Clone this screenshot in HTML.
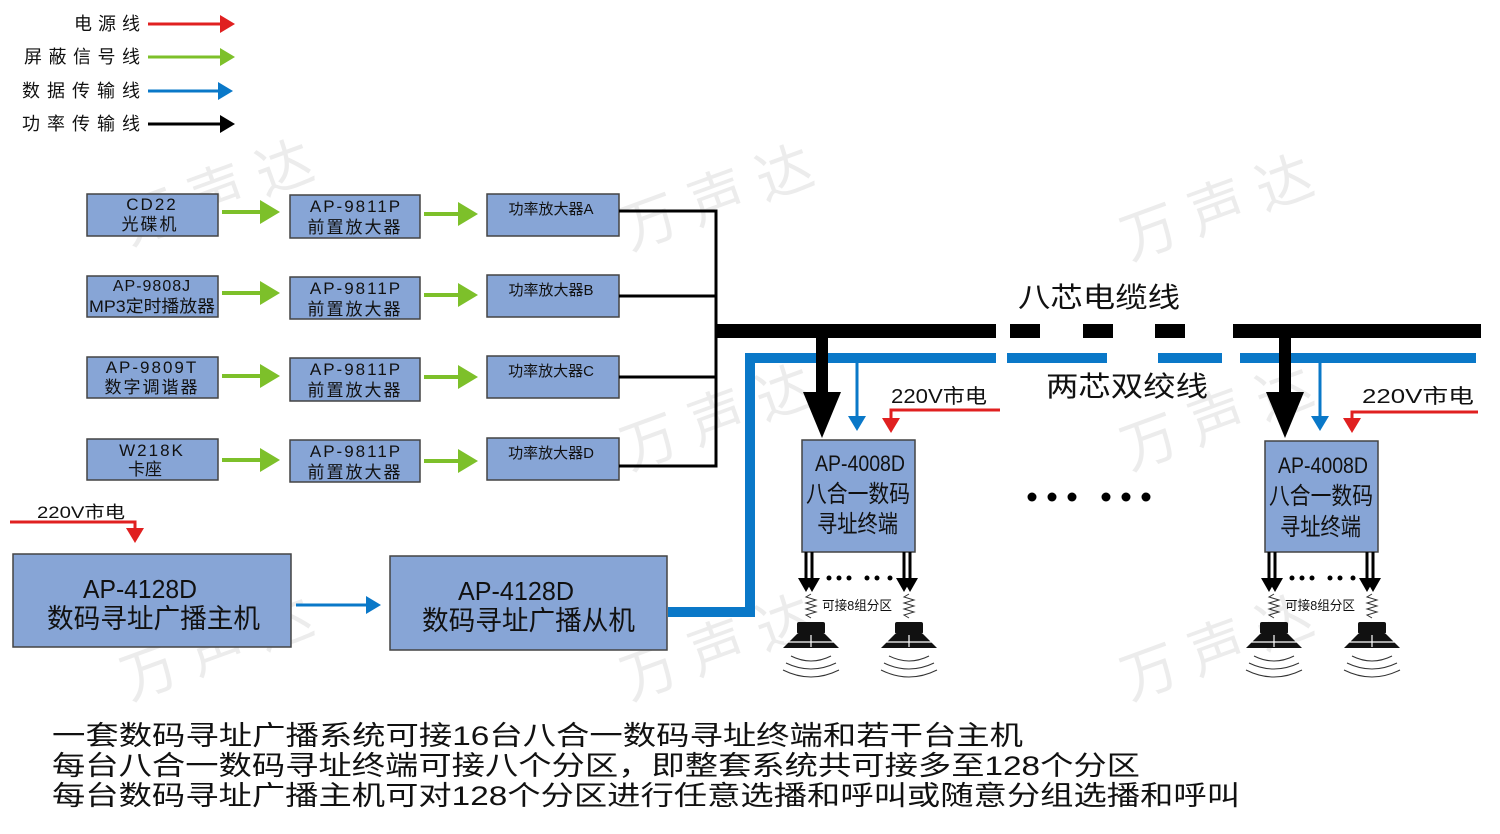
<!DOCTYPE html>
<html><head><meta charset="utf-8"><style>
html,body{margin:0;padding:0;background:#fff;}
svg{display:block;}
text{font-family:"Liberation Sans","Noto Sans CJK SC",sans-serif;fill:#111;}
.b{fill:#87a5d6;stroke:#444;stroke-width:1.5;}
.wm text{fill:#ececec;font-size:56px;}
</style></head><body>
<svg width="1500" height="834" viewBox="0 0 1500 834" xmlns="http://www.w3.org/2000/svg">
<defs>
<marker id="ar" markerWidth="6" markerHeight="6" refX="4" refY="3" orient="auto" markerUnits="strokeWidth"><path d="M0,0L5,3L0,6z" fill="#e02020"/></marker>
<marker id="ag" markerWidth="6" markerHeight="6" refX="4" refY="3" orient="auto" markerUnits="strokeWidth"><path d="M0,0L5,3L0,6z" fill="#7dc02a"/></marker>
<marker id="abl" markerWidth="6" markerHeight="6" refX="4" refY="3" orient="auto" markerUnits="strokeWidth"><path d="M0,0L5,3L0,6z" fill="#0a78c8"/></marker>
<marker id="ak" markerWidth="6" markerHeight="6" refX="4" refY="3" orient="auto" markerUnits="strokeWidth"><path d="M0,0L5,3L0,6z" fill="#000"/></marker>
<g id="spk">
<path d="M-5,-48 V-20 M1,-48 V-20" stroke="#000" stroke-width="3"/>
<path d="M-13,-22 L-5,-8 L3,-22z M-7,-22 L1,-8 L9,-22z" fill="#000"/>
<path d="M0,-6 l-5,3 l10,3 l-10,3 l10,3 l-10,3 l10,3 l-10,3 l5,3" stroke="#333" fill="none" stroke-width="1"/>
<rect x="-14" y="22" width="28" height="12" rx="2" fill="#111"/>
<path d="M-14,34 L-28,48 L28,48 L14,34z" fill="#111"/>
<path d="M0,35V47 M-27,42H27" stroke="#fff" stroke-width="1.2"/>
<path d="M-20,56 Q0,66 20,56 M-25,63 Q0,75 25,63 M-28,70 Q0,84 28,70" stroke="#333" fill="none" stroke-width="1"/>
</g>
</defs>
<!-- watermarks -->
<g class="wm">
<text x="130" y="245" transform="rotate(-20 130 245)">万 声 达</text>
<text x="630" y="250" transform="rotate(-20 630 250)">万 声 达</text>
<text x="1130" y="260" transform="rotate(-20 1130 260)">万 声 达</text>
<text x="630" y="470" transform="rotate(-20 630 470)">万 声 达</text>
<text x="1130" y="470" transform="rotate(-20 1130 470)">万 声 达</text>
<text x="130" y="700" transform="rotate(-20 130 700)">万 声 达</text>
<text x="630" y="700" transform="rotate(-20 630 700)">万 声 达</text>
<text x="1130" y="700" transform="rotate(-20 1130 700)">万 声 达</text>
</g>
<!-- legend -->
<g font-size="18">
<text x="74" y="30" textLength="66" lengthAdjust="spacing">电源线</text>
<text x="24" y="63" textLength="116" lengthAdjust="spacing">屏蔽信号线</text>
<text x="22" y="97" textLength="118" lengthAdjust="spacing">数据传输线</text>
<text x="22" y="130" textLength="118" lengthAdjust="spacing">功率传输线</text>
</g>
<line x1="148" y1="24" x2="232" y2="24" stroke="#e02020" stroke-width="3" marker-end="url(#ar)"/>
<line x1="148" y1="57" x2="232" y2="57" stroke="#7dc02a" stroke-width="3" marker-end="url(#ag)"/>
<line x1="148" y1="91" x2="230" y2="91" stroke="#0a78c8" stroke-width="3" marker-end="url(#abl)"/>
<line x1="148" y1="124" x2="232" y2="124" stroke="#000" stroke-width="3" marker-end="url(#ak)"/>

<!-- rows -->
<g font-size="17">
<rect class="b" x="87" y="194" width="131" height="42"/>
<text x="152" y="210" text-anchor="middle" letter-spacing="2">CD22</text>
<text x="150" y="230" text-anchor="middle" letter-spacing="2">光碟机</text>
<rect class="b" x="87" y="276" width="131" height="41"/>
<text x="152" y="291" text-anchor="middle" font-size="16" letter-spacing="1">AP-9808J</text>
<text x="89" y="312" font-size="17" textLength="126" lengthAdjust="spacingAndGlyphs">MP3定时播放器</text>
<rect class="b" x="87" y="357" width="131" height="41"/>
<text x="152" y="373" text-anchor="middle" letter-spacing="2">AP-9809T</text>
<text x="152" y="393" text-anchor="middle" letter-spacing="2">数字调谐器</text>
<rect class="b" x="87" y="439" width="131" height="41"/>
<text x="152" y="456" text-anchor="middle" letter-spacing="2">W218K</text>
<text x="145" y="475" text-anchor="middle">卡座</text>
</g>
<g font-size="17">
<rect class="b" x="290" y="195" width="130" height="43"/>
<text x="356" y="212" text-anchor="middle" letter-spacing="2">AP-9811P</text>
<text x="355" y="233" text-anchor="middle" letter-spacing="2">前置放大器</text>
<rect class="b" x="290" y="277" width="130" height="42"/>
<text x="356" y="294" text-anchor="middle" letter-spacing="2">AP-9811P</text>
<text x="355" y="315" text-anchor="middle" letter-spacing="2">前置放大器</text>
<rect class="b" x="290" y="358" width="130" height="43"/>
<text x="356" y="375" text-anchor="middle" letter-spacing="2">AP-9811P</text>
<text x="355" y="396" text-anchor="middle" letter-spacing="2">前置放大器</text>
<rect class="b" x="290" y="440" width="130" height="42"/>
<text x="356" y="457" text-anchor="middle" letter-spacing="2">AP-9811P</text>
<text x="355" y="478" text-anchor="middle" letter-spacing="2">前置放大器</text>
</g>
<g font-size="15">
<rect class="b" x="487" y="194" width="132" height="42"/>
<text x="551" y="214" text-anchor="middle">功率放大器A</text>
<rect class="b" x="487" y="275" width="132" height="42"/>
<text x="551" y="295" text-anchor="middle">功率放大器B</text>
<rect class="b" x="487" y="356" width="132" height="42"/>
<text x="551" y="376" text-anchor="middle">功率放大器C</text>
<rect class="b" x="487" y="438" width="132" height="42"/>
<text x="551" y="458" text-anchor="middle">功率放大器D</text>
</g>
<g stroke="#7dc02a" stroke-width="4" marker-end="url(#ag)">
<line x1="222" y1="212" x2="276" y2="212"/><line x1="424" y1="214" x2="474" y2="214"/>
<line x1="222" y1="293" x2="276" y2="293"/><line x1="424" y1="295" x2="474" y2="295"/>
<line x1="222" y1="376" x2="276" y2="376"/><line x1="424" y1="377" x2="474" y2="377"/>
<line x1="222" y1="460" x2="276" y2="460"/><line x1="424" y1="461" x2="474" y2="461"/>
</g>
<g stroke="#000" stroke-width="3" fill="none">
<path d="M619,211H716V466H619 M619,296H716 M619,377H716"/>
</g>
<!-- bus -->
<g fill="#000">
<rect x="716" y="324" width="280" height="14"/>
<rect x="1010" y="324" width="30" height="14"/>
<rect x="1083" y="324" width="30" height="14"/>
<rect x="1155" y="324" width="30" height="14"/>
<rect x="1233" y="324" width="248" height="14"/>
</g>
<g fill="#0a78c8">
<rect x="745" y="353" width="251" height="10"/>
<rect x="1007" y="353" width="100" height="10"/>
<rect x="1158" y="353" width="64" height="10"/>
<rect x="1240" y="353" width="236" height="10"/>
</g>
<path d="M750,358V612H668" stroke="#0a78c8" stroke-width="10" fill="none"/>
<text x="1018" y="307" font-size="28" textLength="162" lengthAdjust="spacingAndGlyphs">八芯电缆线</text>
<text x="1046" y="396" font-size="28" textLength="162" lengthAdjust="spacingAndGlyphs">两芯双绞线</text>
<g fill="#000">
<circle cx="1032" cy="497" r="4.5"/><circle cx="1052" cy="497" r="4.5"/><circle cx="1072" cy="497" r="4.5"/>
<circle cx="1106" cy="497" r="4.5"/><circle cx="1126" cy="497" r="4.5"/><circle cx="1146" cy="497" r="4.5"/>
</g>
<!-- terminal 1 -->
<rect x="816" y="338" width="12" height="56" fill="#000"/>
<path d="M803,392L841,392L822,438z" fill="#000"/>
<line x1="857" y1="363" x2="857" y2="428" stroke="#0a78c8" stroke-width="3" marker-end="url(#abl)"/>
<path d="M1000,410H891V430" stroke="#e02020" stroke-width="3" fill="none" marker-end="url(#ar)"/>
<text x="891" y="403" font-size="20" textLength="96" lengthAdjust="spacingAndGlyphs">220V市电</text>
<rect class="b" x="802" y="440" width="113" height="112"/>
<text x="815" y="471" font-size="22" textLength="90" lengthAdjust="spacingAndGlyphs">AP-4008D</text>
<text x="806" y="502" font-size="24" textLength="104" lengthAdjust="spacingAndGlyphs">八合一数码</text>
<text x="817" y="532" font-size="24" textLength="81" lengthAdjust="spacingAndGlyphs">寻址终端</text>
<use href="#spk" transform="translate(811,600)"/>
<use href="#spk" transform="translate(909,600)"/>
<text x="822" y="610" font-size="13" textLength="70" lengthAdjust="spacingAndGlyphs">可接8组分区</text>
<g fill="#000"><circle cx="829" cy="578" r="2.5"/><circle cx="839" cy="578" r="2.5"/><circle cx="849" cy="578" r="2.5"/><circle cx="867" cy="578" r="2.5"/><circle cx="877" cy="578" r="2.5"/><circle cx="890" cy="578" r="2.5"/></g>
<!-- terminal 2 -->
<rect x="1279" y="338" width="12" height="56" fill="#000"/>
<path d="M1266,392L1304,392L1285,438z" fill="#000"/>
<line x1="1320" y1="363" x2="1320" y2="428" stroke="#0a78c8" stroke-width="3" marker-end="url(#abl)"/>
<path d="M1478,412H1352V430" stroke="#e02020" stroke-width="3" fill="none" marker-end="url(#ar)"/>
<text x="1362" y="403" font-size="20" textLength="112" lengthAdjust="spacingAndGlyphs">220V市电</text>
<rect class="b" x="1265" y="441" width="113" height="111"/>
<text x="1278" y="473" font-size="22" textLength="90" lengthAdjust="spacingAndGlyphs">AP-4008D</text>
<text x="1269" y="504" font-size="24" textLength="104" lengthAdjust="spacingAndGlyphs">八合一数码</text>
<text x="1280" y="535" font-size="24" textLength="81" lengthAdjust="spacingAndGlyphs">寻址终端</text>
<use href="#spk" transform="translate(1274,600)"/>
<use href="#spk" transform="translate(1372,600)"/>
<text x="1285" y="610" font-size="13" textLength="70" lengthAdjust="spacingAndGlyphs">可接8组分区</text>
<g fill="#000"><circle cx="1292" cy="578" r="2.5"/><circle cx="1302" cy="578" r="2.5"/><circle cx="1312" cy="578" r="2.5"/><circle cx="1330" cy="578" r="2.5"/><circle cx="1340" cy="578" r="2.5"/><circle cx="1353" cy="578" r="2.5"/></g>
<!-- host -->
<text x="37" y="518" font-size="17" textLength="88" lengthAdjust="spacingAndGlyphs">220V市电</text>
<path d="M10,522H135V540" stroke="#e02020" stroke-width="3" fill="none" marker-end="url(#ar)"/>
<rect class="b" x="13" y="554" width="278" height="93"/>
<text x="83" y="598" font-size="26" textLength="114" lengthAdjust="spacingAndGlyphs">AP-4128D</text>
<text x="47" y="628" font-size="27" textLength="213" lengthAdjust="spacingAndGlyphs">数码寻址广播主机</text>
<line x1="296" y1="605" x2="378" y2="605" stroke="#0a78c8" stroke-width="3" marker-end="url(#abl)"/>
<rect class="b" x="390" y="556" width="277" height="94"/>
<text x="458" y="600" font-size="26" textLength="116" lengthAdjust="spacingAndGlyphs">AP-4128D</text>
<text x="422" y="630" font-size="27" textLength="213" lengthAdjust="spacingAndGlyphs">数码寻址广播从机</text>
<!-- bottom -->
<g font-size="27">
<text x="52" y="745" textLength="971" lengthAdjust="spacingAndGlyphs">一套数码寻址广播系统可接16台八合一数码寻址终端和若干台主机</text>
<text x="52" y="775" textLength="1088" lengthAdjust="spacingAndGlyphs">每台八合一数码寻址终端可接八个分区，即整套系统共可接多至128个分区</text>
<text x="52" y="805" textLength="1188" lengthAdjust="spacingAndGlyphs">每台数码寻址广播主机可对128个分区进行任意选播和呼叫或随意分组选播和呼叫</text>
</g>
</svg>
</body></html>
